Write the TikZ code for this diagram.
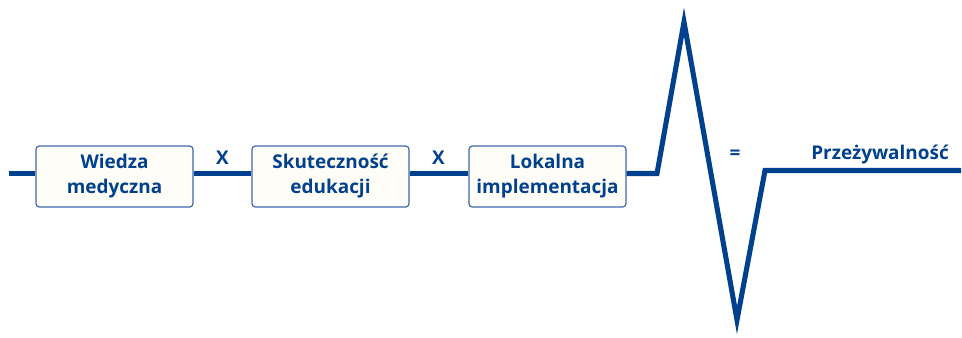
\documentclass[tikz,border=0pt]{standalone}
\usepackage{fontspec}
\setmainfont{Open Sans}
\usetikzlibrary{positioning}
\definecolor{pulse}{RGB}{0,64,140}
\definecolor{boxline}{RGB}{62,104,172}
\definecolor{boxfill}{RGB}{255,253,248}
\tikzset{
  factor/.style={draw=boxline, fill=boxfill, line width=0.9pt, rounded corners=2.5pt,
    minimum width=117.75pt, minimum height=45.75pt, align=center, text=pulse,
    font=\fontsize{14.2}{18.75}\selectfont\bfseries},
  heart/.style={draw=pulse, line width=3.8pt, line join=miter},
  sign/.style={text=pulse, font=\fontsize{14.2}{16}\selectfont\bfseries, inner sep=0pt}
}
\begin{document}
\begin{tikzpicture}[x=0.75pt, y=-0.75pt]
    \useasboundingbox (0,0) rectangle (962,338);

    %linia tetna
    \coordinate (start) at (9,173.5);
    \coordinate (krok) at (657,173.5);
    \coordinate (szczyt) at (684,22);
    \coordinate (dolina) at (737,320);
    \coordinate (powrot) at (765,170.5);
    \coordinate (koniec) at (961,170.5);

    %czynniki
    \node[factor] (wiedza) at (114.5,176.5) {Wiedza\\medyczna};
    \node[factor] (skutecznosc) at (330.5,176.5) {Skuteczność\\edukacji};
    \node[factor] (lokalna) at (547.5,176.5) {Lokalna\\implementacja};

    \draw[heart] (start) -- (start -| wiedza.west);
    \draw[heart] (start -| wiedza.east) -- (start -| skutecznosc.west);
    \draw[heart] (start -| skutecznosc.east) -- (start -| lokalna.west);
    \draw[heart] (start -| lokalna.east) -- (krok) -- (szczyt) -- (dolina) -- (powrot) -- (koniec);

    %znaki
    \node[sign] (razy1) at (222.5,158) {X};
    \node[sign] (razy2) at (438.5,158) {X};
    \node[sign] (rowna) at (735,155) {=};
    \node[sign] (wynik) at (880,155) {Przeżywalność};
\end{tikzpicture}
\end{document}
